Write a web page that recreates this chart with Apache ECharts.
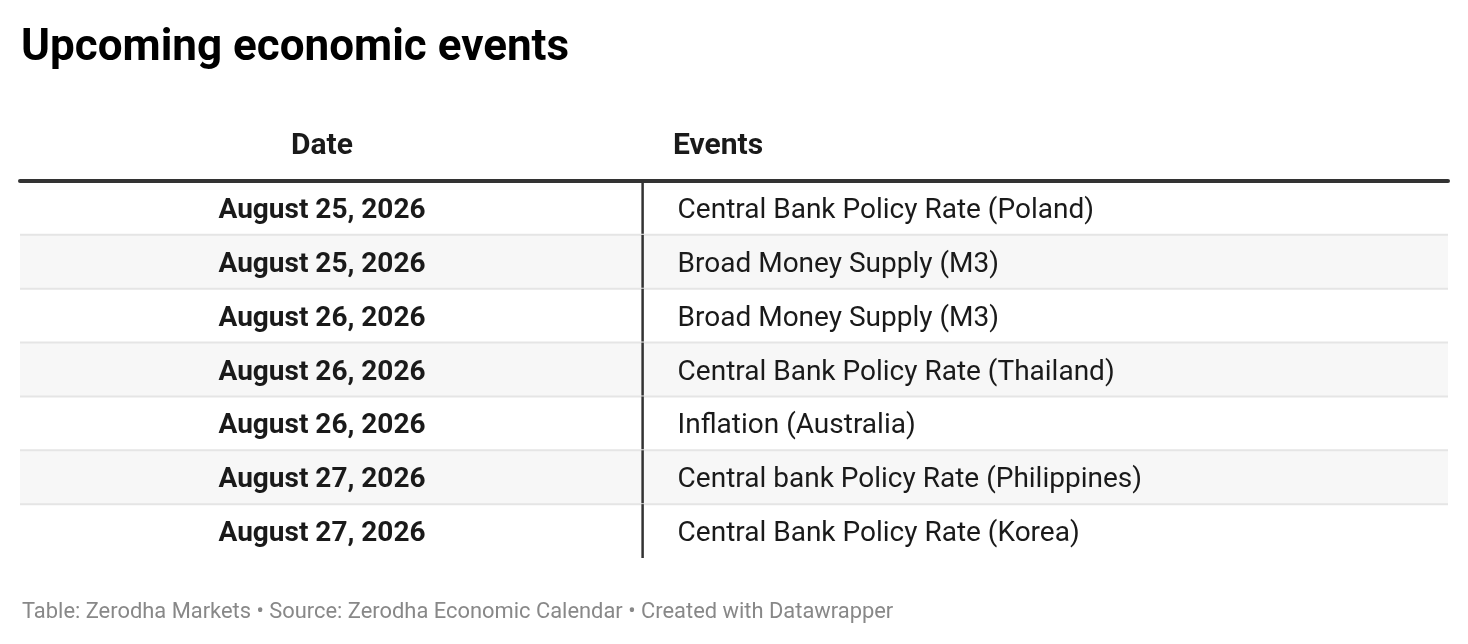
<!DOCTYPE html>
<html>
<head>
<meta charset="utf-8">
<script src="https://cdn.jsdelivr.net/npm/echarts@6/dist/echarts.min.js"></script>
<style>
    html, body{ margin: 0; padding: 0; background: #fff; }
    #events_table{ width: 1468px; height: 644px; }
</style>
</head>
<body>
<div id="events_table"></div>
<script>
    // table data
    var headers = ['Date', 'Events'];
    var dates = [
        'August 25, 2026',
        'August 25, 2026',
        'August 26, 2026',
        'August 26, 2026',
        'August 26, 2026',
        'August 27, 2026',
        'August 27, 2026'
    ];
    var events = [
        'Central Bank Policy Rate (Poland)',
        'Broad Money Supply (M3)',
        'Broad Money Supply (M3)',
        'Central Bank Policy Rate (Thailand)',
        'Inflation (Australia)',
        'Central bank Policy Rate (Philippines)',
        'Central Bank Policy Rate (Korea)'
    ];

    var font = 'Roboto, "Noto Sans", sans-serif';
    var splitX = 43.6;    // column divider, in % of table width
    var dateX = 21.15;    // date column centre
    var eventX = 46.05;   // event text start

    var myChart = echarts.init(document.getElementById('events_table'));
    var option = {
        backgroundColor: '#fff',
        animation: false,
        title: [
            {
                text: 'Upcoming economic events',
                left: 16,
                top: 22,
                textStyle: { fontFamily: font, fontSize: 44, fontWeight: 'bold', color: '#000' }
            },
            {
                text: 'Table: Zerodha Markets • Source: Zerodha Economic Calendar • Created with Datawrapper',
                left: 17,
                top: 597,
                textStyle: { fontFamily: font, fontSize: 21.9, fontWeight: 'normal', color: '#888' }
            }
        ],
        grid: { left: 20, right: 20, top: 181, height: 377 },
        xAxis: {
            type: 'value',
            position: 'top',
            min: 0,
            max: 100,
            axisLine: { show: true, lineStyle: { color: '#333', width: 4 } },
            axisTick: { show: false },
            axisLabel: { show: false },
            splitLine: { show: false }
        },
        yAxis: {
            type: 'category',
            inverse: true,
            data: dates.map(function (d, i) { return i; }),
            axisLine: { show: false },
            axisTick: { show: false },
            axisLabel: { show: false },
            splitLine: { show: false }
        },
        graphic: [
            {
                type: 'text', x: 20 + 1428 * dateX / 100, y: 146,
                style: { text: headers[0], font: 'bold 30px ' + font, fill: '#1a1a1a', align: 'center', verticalAlign: 'middle' }
            },
            {
                type: 'text', x: 673, y: 146,
                style: { text: headers[1], font: 'bold 30px ' + font, fill: '#1a1a1a', align: 'left', verticalAlign: 'middle' }
            }
        ],
        series: [
            {
                type: 'custom',
                data: dates.map(function (d, i) { return [i]; }),
                renderItem: function (params, api) {
                    var i = api.value(0);
                    var c = api.coord([0, i]);
                    var h = api.size([0, 1])[1];
                    var x0 = c[0];
                    var x1 = api.coord([100, i])[0];
                    var xs = api.coord([splitX, i])[0];
                    var xd = api.coord([dateX, i])[0];
                    var xe = api.coord([eventX, i])[0];
                    var y0 = c[1] - h / 2;
                    var kids = [];
                    if (i % 2 === 1) {
                        kids.push({ type: 'rect', shape: { x: x0, y: y0, width: x1 - x0, height: h }, style: { fill: '#f7f7f7' } });
                    }
                    if (i > 0) {
                        kids.push({ type: 'line', shape: { x1: x0, y1: y0, x2: x1, y2: y0 }, style: { stroke: '#e5e5e5', lineWidth: 2 } });
                    }
                    kids.push({ type: 'line', shape: { x1: xs, y1: y0, x2: xs, y2: y0 + h }, style: { stroke: '#333', lineWidth: 2.5 } });
                    kids.push({
                        type: 'text', x: xd, y: c[1] + 3,
                        style: { text: dates[i], font: 'bold 28px ' + font, fill: '#1a1a1a', align: 'center', verticalAlign: 'middle' }
                    });
                    kids.push({
                        type: 'text', x: xe, y: c[1] + 3,
                        style: { text: events[i], font: '28px ' + font, fill: '#1a1a1a', align: 'left', verticalAlign: 'middle' }
                    });
                    return { type: 'group', children: kids };
                }
            }
        ]
    };
    myChart.setOption(option);
</script>
</body>
</html>
